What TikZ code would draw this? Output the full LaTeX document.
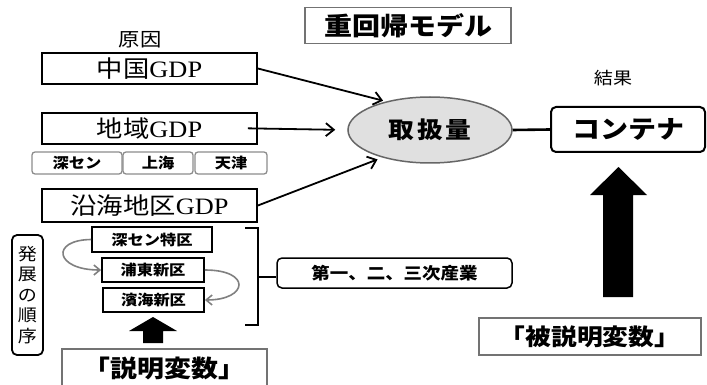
\documentclass[tikz,border=0pt]{standalone}
\usepackage{fontspec}
\setmainfont{Liberation Serif}
\newfontfamily\jp{Noto Sans CJK JP}[FakeStretch=1.12]
\newfontfamily\gser{Liberation Serif}[FakeStretch=1.12]
\usetikzlibrary{arrows.meta,shapes.geometric}
\tikzset{
  gbox/.style={draw, line width=1.8pt, inner sep=0pt, font=\jp\fontsize{23.5}{25}\selectfont},
  graybox/.style={draw=black!55, line width=1.6pt, inner sep=0pt, font=\jp\bfseries\fontsize{23}{25}\selectfont},
  tagbox/.style={draw=black!45, line width=1.3pt, rounded corners=3pt, inner sep=0pt, minimum height=22pt, font=\jp\bfseries\fontsize{14.5}{16}\selectfont},
  zonebox/.style={draw, line width=1.8pt, inner sep=0pt, font=\jp\bfseries\fontsize{14.5}{16}\selectfont},
  arr/.style={line width=1.8pt, -{Straight Barb[length=8pt,width=13pt,line width=1.8pt]}},
  curv/.style={draw=black!50, line width=1.6pt, -{Straight Barb[length=6pt,width=10pt,line width=1.6pt]}},
  blk/.style={fill=black, draw=none}
}
\begin{document}
\begin{tikzpicture}[x=1pt,y=-1pt]
\clip (0,0) rectangle (707,385);
\fill[white] (0,0) rectangle (707,385);

\node[graybox, minimum width=206pt, minimum height=36pt, font=\jp\bfseries\fontsize{25}{27}\selectfont] (title) at (408,25.5) {重回帰モデル};
\node[font=\jp\fontsize{19}{21}\selectfont] (genin) at (140,40) {原因};
\node[font=\jp\fontsize{17}{19}\selectfont] (kekka) at (613,78) {結果};

\node[gbox, minimum width=215pt, minimum height=31pt] (cgdp) at (149.5,68.5) {中国{\gser GDP}};
\node[gbox, minimum width=215pt, minimum height=31pt] (rgdp) at (149.5,128.5) {地域{\gser GDP}};
\node[tagbox, minimum width=90pt] (s1) at (77,163) {深セン};
\node[tagbox, minimum width=70pt] (s2) at (158,163) {上海};
\node[tagbox, minimum width=72pt] (s3) at (231,163) {天津};
\node[gbox, minimum width=215pt, minimum height=33pt] (kgdp) at (149.5,205.5) {沿海地区{\gser GDP}};

\node[ellipse, draw=black!60, fill=black!12, line width=1.5pt, minimum width=164pt, minimum height=66pt, font=\jp\bfseries\fontsize{23}{25}\selectfont\addfontfeature{LetterSpace=12}] (ell) at (430,130) {取扱量};
\node[draw, line width=2pt, rounded corners=5pt, minimum width=154pt, minimum height=45pt, inner sep=0pt, font=\jp\bfseries\fontsize{25}{27}\selectfont] (cont) at (628,129.5) {コンテナ};

\draw[arr, shorten >=3pt] (cgdp.east) -- (ell.147);
\draw[arr, shorten <=-10pt, shorten >=12pt] (rgdp.east) -- (ell.west);
\draw[arr, shorten >=5pt] (kgdp.east) -- (ell.210);
\draw[line width=2.6pt] (ell.east) -- (cont.west);

% big arrow
\coordinate (bigtip) at (618.5,167);
\fill[blk] (bigtip) -- (647,195) -- (633,195) -- (633,297) -- (603,297) -- (603,195) -- (590,195) -- cycle;
\node[graybox, minimum width=222pt, minimum height=37pt] (hisetsu) at (590,336.5) {「被説明変数」};

% zones
\node[zonebox, minimum width=120pt, minimum height=25pt] (sz1) at (152,239.5) {深セン特区};
\node[zonebox, minimum width=102pt, minimum height=24pt] (sz2) at (153,270) {浦東新区};
\node[zonebox, minimum width=101pt, minimum height=24pt] (sz3) at (153.5,300) {濱海新区};
\draw[curv] (sz1.west) .. controls (50,240) and (55,270) .. (sz2.west);
\draw[curv] (sz2.east) .. controls (252,270) and (248,300) .. (sz3.east);

% bracket
\coordinate (brm) at (258,277);
\draw[line width=1.6pt] (245,228) -- (258,228) -- (258,325) -- (245,325);
\node[draw, line width=1.5pt, rounded corners=5pt, minimum width=235pt, minimum height=30pt, inner sep=0pt, font=\jp\bfseries\fontsize{16.5}{18}\selectfont] (ind) at (394.5,273) {第一、二、三次産業};
\draw[line width=1.6pt] (brm) -- (ind.west |- brm);

% vertical box
\node[draw, line width=1.8pt, rounded corners=5pt, minimum width=31pt, minimum height=120pt, inner sep=0pt, align=center, font=\jp\fontsize{17}{20.5}\selectfont] (hatten) at (27.5,295) {発\\展\\の\\順\\序};

% small arrow
\coordinate (smtip) at (153,317);
\fill[blk] (smtip) -- (177,331) -- (163,331) -- (163,343) -- (143,343) -- (143,331) -- (129,331) -- cycle;
\node[graybox, minimum width=205pt, minimum height=46pt, anchor=north] (setsumei) at (164.5,348) {};
\node[font=\jp\bfseries\fontsize{24}{26}\selectfont] (setsumeit) at (164.5,368) {「説明変数」};
\end{tikzpicture}
\end{document}
